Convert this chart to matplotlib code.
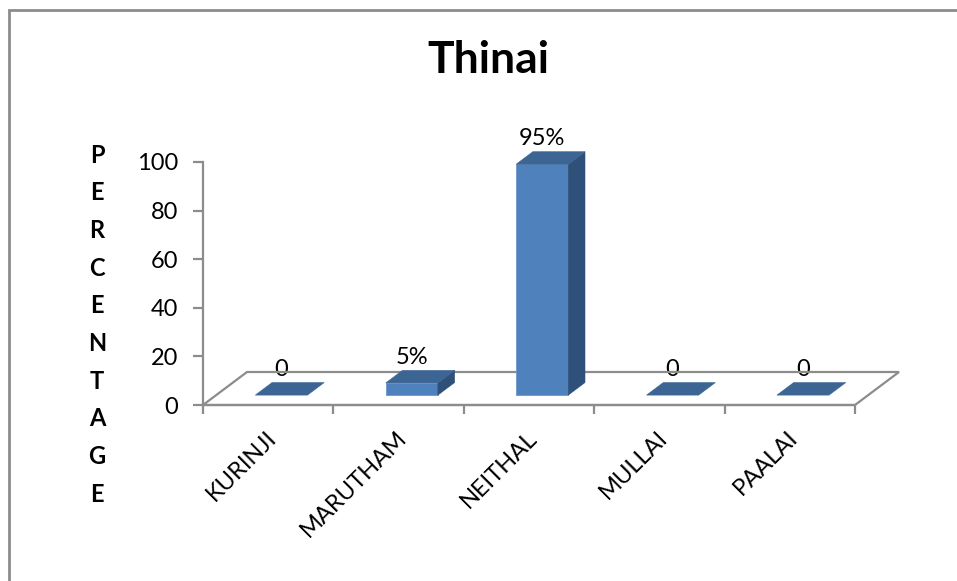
import matplotlib
matplotlib.use("Agg")
import matplotlib.pyplot as plt
from matplotlib.patches import Polygon, Rectangle
from matplotlib.transforms import IdentityTransform, ScaledTranslation

# ---- data ----
categories = ["KURINJI", "MARUTHAM", "NEITHAL", "MULLAI", "PAALAI"]
values = [0, 5, 95, 0, 0]
value_labels = ["0", "5%", "95%", "0", "0"]
yticks = [0, 20, 40, 60, 80, 100]
title = "Thinai"
ylabel = "PERCENTAGE"

# ---- style ----
plt.rcParams['font.family'] = ['Lato', 'DejaVu Sans']
FRONT = '#4F81BD'
SIDE = '#2F5078'
TOP = '#3D6594'
LINE = '#8C8C8C'

W, H, DPI = 957, 581, 100
fig = plt.figure(figsize=(W / DPI, H / DPI), dpi=DPI)
fig.patch.set_facecolor('white')

# outer chart frame (runs off the right and bottom edges)
frame = Rectangle((9 / W, -0.1), 1.2, (H - 10) / H + 0.1, transform=fig.transFigure,
                  fill=False, ec=LINE, lw=2)
fig.patches.append(frame)

ax = fig.add_axes([203 / W, 176 / H, 652 / W, 243 / H])
ax.set_xlim(-0.5, len(categories) - 0.5)
ax.set_ylim(0, 100)
ax.patch.set_visible(False)
for s in ('top', 'right'):
    ax.spines[s].set_visible(False)
for s in ('left', 'bottom'):
    ax.spines[s].set_color(LINE)
    ax.spines[s].set_linewidth(1.6)

ax.set_yticks(yticks)
ax.tick_params(axis='y', length=7, width=1.6, color=LINE, labelsize=17, pad=11)

# category boundaries carry the tick marks, centers carry the labels
ax.set_xticks([i - 0.5 for i in range(len(categories) + 1)])
ax.set_xticklabels([])
ax.tick_params(axis='x', which='major', length=6.5, width=1.6, color=LINE)
ax.set_xticks(range(len(categories)), minor=True)
ax.set_xticklabels(categories, minor=True, rotation=45, ha='right',
                   rotation_mode='anchor', fontsize=17)
ax.tick_params(axis='x', which='minor', length=0, pad=16)
for lab in ax.get_xticklabels(minor=True):
    lab.set_transform(lab.get_transform() + ScaledTranslation(-3 / DPI, 0, fig.dpi_scale_trans))

fig.canvas.draw()
T = ax.transData

# floor depth (pixels) and bar placement within it
DEPTH = (44.0, 33.0)
F_FRONT, F_BACK = 0.30, 0.68
HALF_W = 0.2  # half bar width in category units

x0, y0 = T.transform((-0.5, 0))
x1, _ = T.transform((len(categories) - 0.5, 0))
floor = Polygon([(x0, y0), (x1, y0), (x1 + DEPTH[0], y0 + DEPTH[1]),
                 (x0 + DEPTH[0], y0 + DEPTH[1])], closed=True, fill=False,
                ec=LINE, lw=1.6, transform=IdentityTransform(), clip_on=False, zorder=1)
fig.add_artist(floor)

fx, fy = DEPTH[0] * F_FRONT, DEPTH[1] * F_FRONT
dx, dy = DEPTH[0] * (F_BACK - F_FRONT), DEPTH[1] * (F_BACK - F_FRONT)

for i, v in enumerate(values):
    xl, yb = T.transform((i - HALF_W, 0))
    xr, yt = T.transform((i + HALF_W, v))
    xl, xr = xl + fx, xr + fx
    yb, yt = yb + fy, yt + fy
    if v > 0:
        fig.add_artist(Polygon([(xl, yb), (xr, yb), (xr, yt), (xl, yt)], closed=True,
                               fc=FRONT, ec='#6E97CC', lw=0.6,
                               transform=IdentityTransform(), zorder=3))
        fig.add_artist(Polygon([(xr, yb), (xr + dx, yb + dy), (xr + dx, yt + dy), (xr, yt)],
                               closed=True, fc=SIDE, ec=SIDE, lw=0.4,
                               transform=IdentityTransform(), zorder=3))
    fig.add_artist(Polygon([(xl, yt), (xr, yt), (xr + dx, yt + dy), (xl + dx, yt + dy)],
                           closed=True, fc=TOP, ec=TOP, lw=0.4,
                           transform=IdentityTransform(), zorder=3))
    # value label above the bar
    ax.annotate(value_labels[i], xy=(i, v),
                xytext=(fx * 0.72, (fy + dy + 13) * 0.72), textcoords='offset points',
                ha='center', va='center', fontsize=17, annotation_clip=False, zorder=4)

fig.text(488 / W, 1 - 60 / H, title, ha='center', va='center', fontsize=32,
         fontweight='bold')

for k, ch in enumerate(ylabel):
    fig.text(97 / W, 1 - (155 + k * 37.7) / H, ch, ha='center', va='center',
             fontsize=17, fontweight='bold')

fig.savefig('out.png', dpi=DPI, facecolor='white')
